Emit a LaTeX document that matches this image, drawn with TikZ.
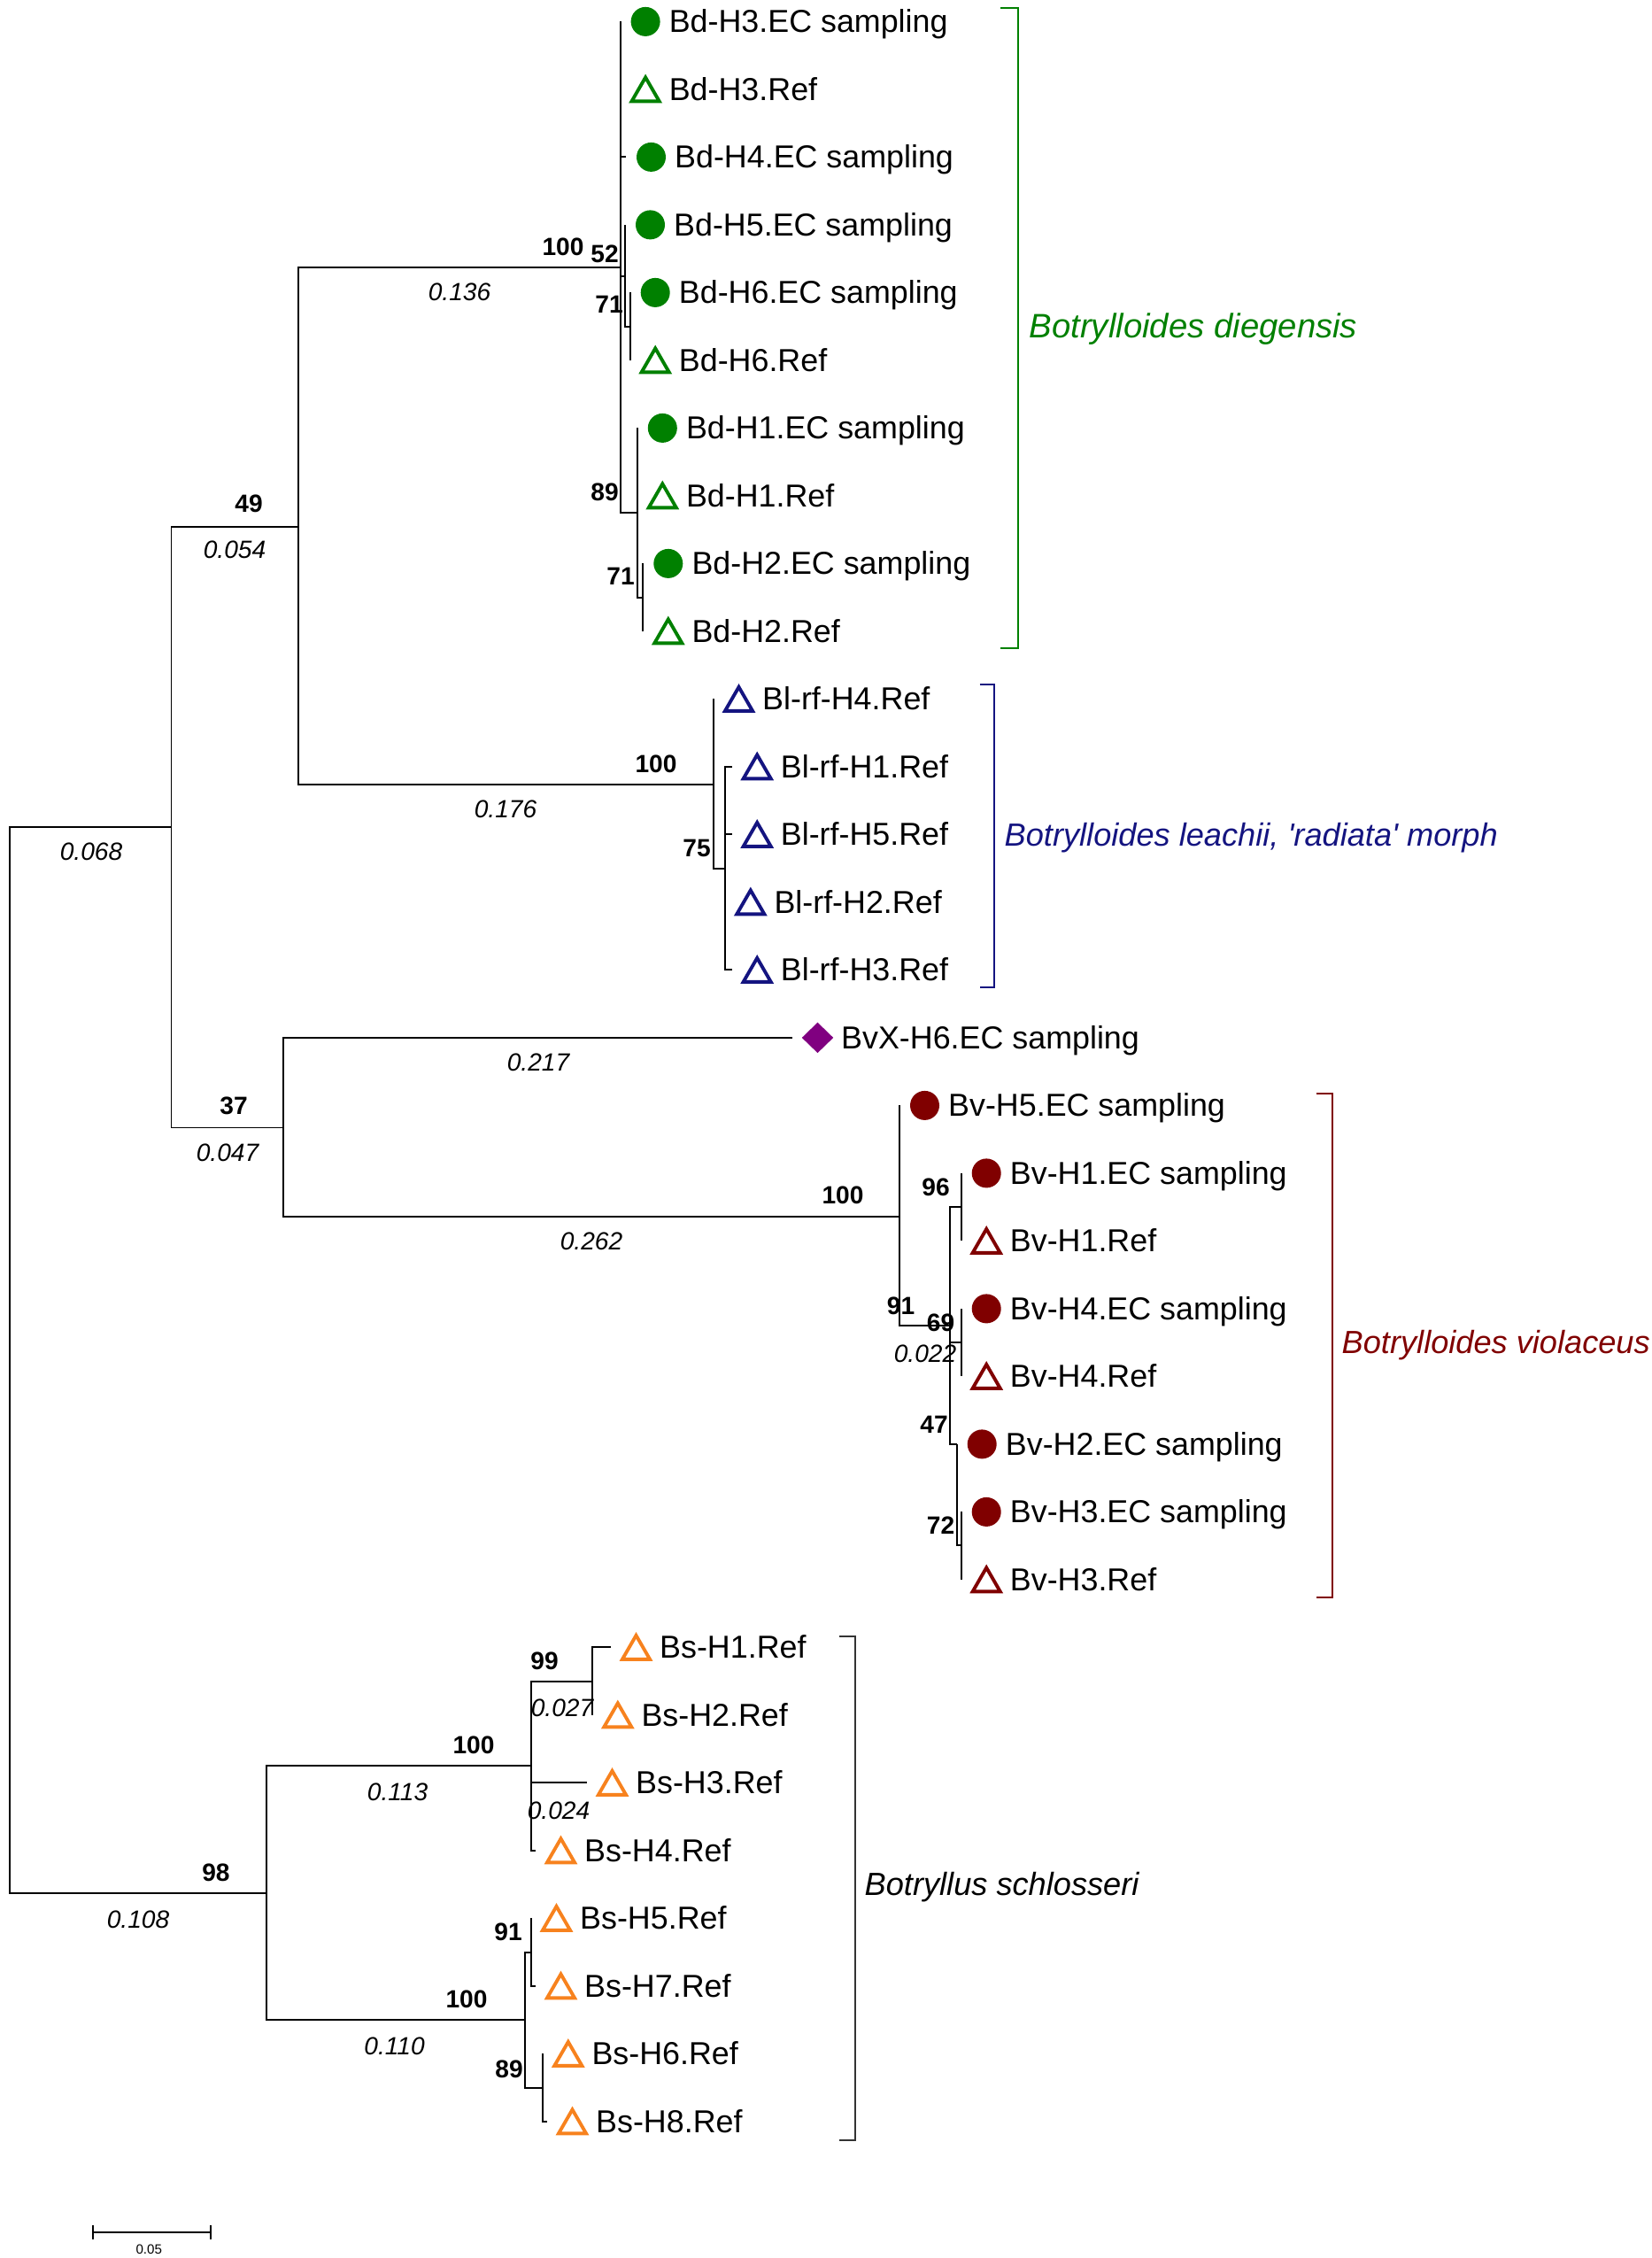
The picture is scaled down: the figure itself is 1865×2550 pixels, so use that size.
\documentclass[tikz,border=0pt]{standalone}
\usepackage{fontspec}
\setmainfont{Liberation Sans}
\usetikzlibrary{shapes.geometric}
\definecolor{bdgreen}{RGB}{0,128,0}
\definecolor{blnavy}{RGB}{20,20,128}
\definecolor{bvred}{RGB}{128,0,0}
\definecolor{bsorange}{RGB}{247,130,30}
\definecolor{bxpurple}{RGB}{128,0,128}
\begin{document}
\begin{tikzpicture}[x=0.1mm,y=-0.1mm,
    branch/.style={line width=0.55pt},
    brk/.style={line width=0.6pt},
    dot/.style={circle,inner sep=0pt,minimum size=3.3mm},
    tri/.style={regular polygon,regular polygon sides=3,inner sep=0pt,minimum size=3.6mm,line width=1.1pt,yshift=-0.45mm},
    ecg/.style={dot,fill=bdgreen},
    refg/.style={tri,draw=bdgreen},
    refb/.style={tri,draw=blnavy},
    ecr/.style={dot,fill=bvred},
    refr/.style={tri,draw=bvred},
    refo/.style={tri,draw=bsorange},
    vx/.style={diamond,fill=bxpurple,inner sep=0pt,minimum width=3.6mm,minimum height=3.5mm},
    leaf/.style={anchor=base west,inner sep=0pt,font=\fontsize{10.2}{12}\selectfont},
    boot/.style={inner sep=0pt,font=\fontsize{8}{10}\selectfont\bfseries},
    blen/.style={inner sep=0pt,font=\fontsize{8}{10}\selectfont\itshape},
    clade/.style={anchor=base west,inner sep=0pt,font=\fontsize{10.3}{12}\selectfont\itshape}]
    \useasboundingbox (0,0) rectangle (1865,2550);

    % internal nodes of the tree
    \coordinate (root) at (11.4,1536);
    \coordinate (nA) at (193.5,934.3);
    \coordinate (nBdBl) at (336.6,595);
    \coordinate (nBd) at (700.6,301.7);
    \coordinate (n52) at (706,312.4);
    \coordinate (n71a) at (711.7,368.7);
    \coordinate (n89) at (719.8,579);
    \coordinate (n71b) at (726.3,674.7);
    \coordinate (nBl) at (806,886.4);
    \coordinate (n75) at (819.3,980.7);
    \coordinate (nBvX) at (320,1273.5);
    \coordinate (nBv) at (1016,1374.2);
    \coordinate (n91) at (1073.3,1497);
    \coordinate (n96) at (1085.7,1363.2);
    \coordinate (n69) at (1085.7,1516.2);
    \coordinate (n47) at (1080.7,1630.9);
    \coordinate (n72) at (1085.7,1745.2);
    \coordinate (nBs) at (300.8,2137.8);
    \coordinate (nBsU) at (600,1994.3);
    \coordinate (n99) at (669.3,1898.7);
    \coordinate (nBsL) at (593.3,2281.2);
    \coordinate (n91s) at (600,2204.7);
    \coordinate (n89s) at (613.3,2357.7);

    % leaves: row / branch end / marker / name
    \foreach \n/\lx/\mk/\lab in {
        0/700.6/ecg/Bd-H3.EC sampling, 1/700.6/refg/Bd-H3.Ref,
        2/707/ecg/Bd-H4.EC sampling, 3/706/ecg/Bd-H5.EC sampling,
        4/711.7/ecg/Bd-H6.EC sampling, 5/711.7/refg/Bd-H6.Ref,
        6/719.8/ecg/Bd-H1.EC sampling, 7/719.8/refg/Bd-H1.Ref,
        8/726.3/ecg/Bd-H2.EC sampling, 9/726.3/refg/Bd-H2.Ref,
        10/806/refb/Bl-rf-H4.Ref, 11/826.7/refb/Bl-rf-H1.Ref,
        12/826.7/refb/Bl-rf-H5.Ref, 13/819.3/refb/Bl-rf-H2.Ref,
        14/826.7/refb/Bl-rf-H3.Ref, 15/895/vx/BvX-H6.EC sampling,
        16/1016/ecr/Bv-H5.EC sampling, 17/1085.7/ecr/Bv-H1.EC sampling,
        18/1085.7/refr/Bv-H1.Ref, 19/1085.7/ecr/Bv-H4.EC sampling,
        20/1085.7/refr/Bv-H4.Ref, 21/1080.7/ecr/Bv-H2.EC sampling,
        22/1085.7/ecr/Bv-H3.EC sampling, 23/1085.7/refr/Bv-H3.Ref,
        24/690/refo/Bs-H1.Ref, 25/669.3/refo/Bs-H2.Ref,
        26/663/refo/Bs-H3.Ref, 27/605/refo/Bs-H4.Ref,
        28/600/refo/Bs-H5.Ref, 29/605/refo/Bs-H7.Ref,
        30/613.3/refo/Bs-H6.Ref, 31/618/refo/Bs-H8.Ref}{
        \coordinate (l\n) at (\lx,{24.4+76.5*\n});
        \node[\mk] (m\n) at ([xshift=2.85mm]l\n) {};
        \node[leaf] (t\n) at ([xshift=5.45mm,yshift=-1.25mm]l\n) {\lab};
    }

    % branches
    \draw[branch] (root) |- (nA);
    \draw[branch] (root) |- (nBs);
    \draw[branch] (nA) |- (nBdBl);
    \draw[branch] (nA) |- (nBvX);
    \draw[branch] (nBdBl) |- (nBd);
    \draw[branch] (nBdBl) |- (nBl);
    \draw[branch] (nBd) |- (l0);
    \draw[branch] (nBd) |- (l1);
    \draw[branch] (nBd) |- (l2);
    \draw[branch] (nBd) |- (n52);
    \draw[branch] (nBd) |- (n89);
    \draw[branch] (n52) |- (l3);
    \draw[branch] (n52) |- (n71a);
    \draw[branch] (n71a) |- (l4);
    \draw[branch] (n71a) |- (l5);
    \draw[branch] (n89) |- (l6);
    \draw[branch] (n89) |- (l7);
    \draw[branch] (n89) |- (n71b);
    \draw[branch] (n71b) |- (l8);
    \draw[branch] (n71b) |- (l9);
    \draw[branch] (nBl) |- (l10);
    \draw[branch] (nBl) |- (n75);
    \draw[branch] (n75) |- (l11);
    \draw[branch] (n75) |- (l12);
    \draw[branch] (n75) |- (l13);
    \draw[branch] (n75) |- (l14);
    \draw[branch] (nBvX) |- (l15);
    \draw[branch] (nBvX) |- (nBv);
    \draw[branch] (nBv) |- (l16);
    \draw[branch] (nBv) |- (n91);
    \draw[branch] (n91) |- (n96);
    \draw[branch] (n91) |- (n69);
    \draw[branch] (n91) |- (n47);
    \draw[branch] (n96) |- (l17);
    \draw[branch] (n96) |- (l18);
    \draw[branch] (n69) |- (l19);
    \draw[branch] (n69) |- (l20);
    \draw[branch] (n47) |- (l21);
    \draw[branch] (n47) |- (n72);
    \draw[branch] (n72) |- (l22);
    \draw[branch] (n72) |- (l23);
    \draw[branch] (nBs) |- (nBsU);
    \draw[branch] (nBs) |- (nBsL);
    \draw[branch] (nBsU) |- (n99);
    \draw[branch] (nBsU) |- (l26);
    \draw[branch] (nBsU) |- (l27);
    \draw[branch] (n99) |- (l24);
    \draw[branch] (n99) |- (l25);
    \draw[branch] (nBsL) |- (n91s);
    \draw[branch] (nBsL) |- (n89s);
    \draw[branch] (n91s) |- (l28);
    \draw[branch] (n91s) |- (l29);
    \draw[branch] (n89s) |- (l30);
    \draw[branch] (n89s) |- (l31);

    % bootstrap values
    \node[boot] (bBd) at (636,279) {100};
    \node[boot] (b52) at (683,287) {52};
    \node[boot] (b71a) at (688,344) {71};
    \node[boot] (b89) at (683,556) {89};
    \node[boot] (b71b) at (701,651) {71};
    \node[boot] (bBdBl) at (281,569) {49};
    \node[boot] (bBl) at (741,863) {100};
    \node[boot] (b75) at (787,958) {75};
    \node[boot] (bBvX) at (264,1249) {37};
    \node[boot] (bBv) at (952,1350) {100};
    \node[boot] (b96) at (1057,1341) {96};
    \node[boot] (b91) at (1017.5,1475) {91};
    \node[boot] (b69) at (1062.6,1494) {69};
    \node[boot] (b47) at (1055,1609) {47};
    \node[boot] (b72) at (1062.6,1723) {72};
    \node[boot] (b99) at (615,1876) {99};
    \node[boot] (bBsU) at (535,1971) {100};
    \node[boot] (b91s) at (574,2182) {91};
    \node[boot] (b89s) at (575,2337) {89};
    \node[boot] (bBsL) at (527,2258) {100};
    \node[boot] (bBs) at (244,2115) {98};

    % branch lengths
    \node[blen] (eBd) at (519,330) {0.136};
    \node[blen] (eBdBl) at (265,621) {0.054};
    \node[blen] (eA) at (103,962) {0.068};
    \node[blen] (eBl) at (571,914) {0.176};
    \node[blen] (eBvX) at (608,1200) {0.217};
    \node[blen] (eA2) at (257,1302) {0.047};
    \node[blen] (eBv) at (668,1402) {0.262};
    \node[blen] (e91) at (1045,1529) {0.022};
    \node[blen] (e99) at (635,1929) {0.027};
    \node[blen] (eH3) at (631,2045) {0.024};
    \node[blen] (eBsU) at (449,2024) {0.113};
    \node[blen] (eBsL) at (445.5,2310.5) {0.110};
    \node[blen] (eBs) at (156,2167.5) {0.108};

    % species brackets
    \draw[brk,bdgreen] (1130,8.7) -- (1150,8.7) -- (1150,732) -- (1130,732);
    \node[clade,text=bdgreen,font=\fontsize{10.9}{12}\selectfont\itshape] (sBd) at (1162,381.5) {Botrylloides diegensis};
    \draw[brk,blnavy] (1106.7,773.3) -- (1123,773.3) -- (1123,1115) -- (1106.7,1115);
    \node[clade,text=blnavy] (sBl) at (1134,955) {Botrylloides leachii, \textquotesingle radiata\textquotesingle\ morph};
    \draw[brk,bvred] (1486.7,1234.6) -- (1505,1234.6) -- (1505,1804) -- (1486.7,1804);
    \node[clade,text=bvred] (sBv) at (1515,1528) {Botrylloides violaceus};
    \draw[brk,black!80] (948.3,1847.7) -- (966,1847.7) -- (966,2416.8) -- (948.3,2416.8);
    \node[clade] (sBs) at (976,2140) {Botryllus schlosseri};

    % scale bar
    \coordinate (sb1) at (105,2520.7);
    \coordinate (sb2) at (238.3,2520.7);
    \draw[branch] (sb1) -- (sb2);
    \draw[branch] ([yshift=0.8mm]sb1) -- ([yshift=-0.8mm]sb1);
    \draw[branch] ([yshift=0.8mm]sb2) -- ([yshift=-0.8mm]sb2);
    \node[inner sep=0pt,font=\fontsize{4.3}{5}\selectfont] (sbl) at (168.3,2540) {0.05};
\end{tikzpicture}
\end{document}
